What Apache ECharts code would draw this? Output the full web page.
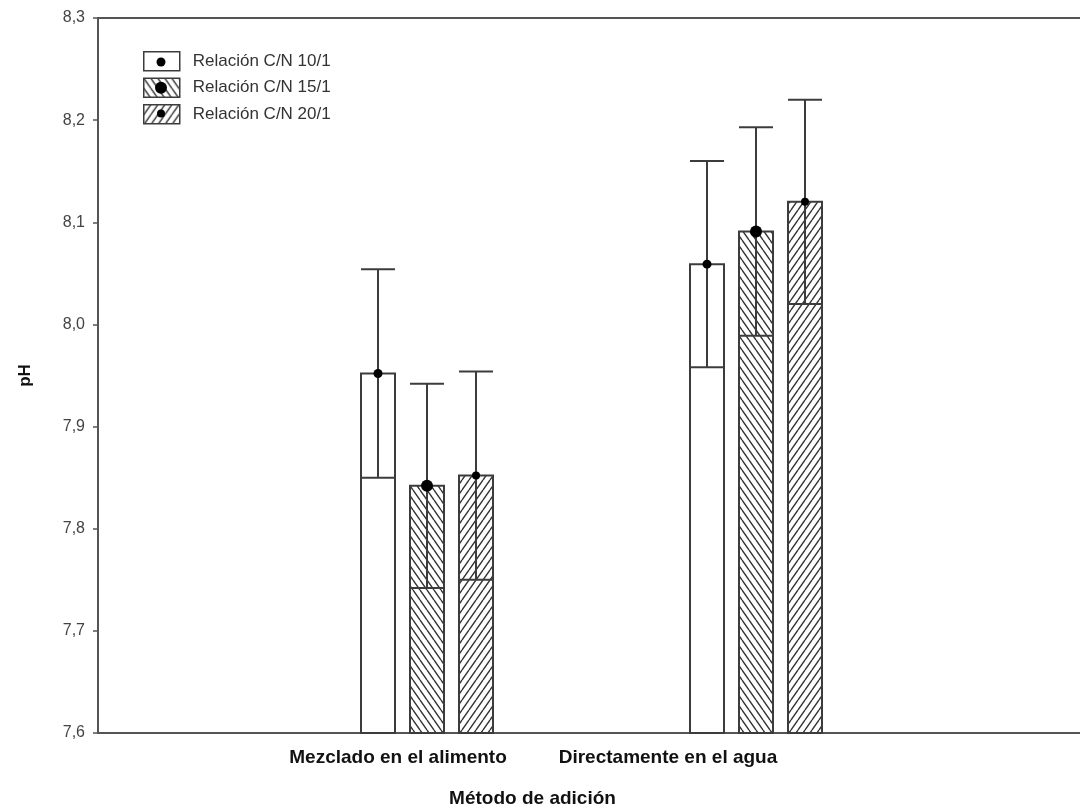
<!DOCTYPE html>
<html>
<head>
<meta charset="utf-8">
<script src="https://cdn.jsdelivr.net/npm/echarts@6/dist/echarts.min.js"></script>
<style>
    html, body { margin: 0; padding: 0; background: #fff; }
    #ph_figure { width: 1080px; height: 808px; }
</style>
</head>
<body>
<div id="ph_figure"></div>
<script>
// categorias del eje x (posiciones 0 y 3 vacias, el grafico original va de 0 a 3)
var categories = ['', 'Mezclado en el alimento', 'Directamente en el agua', ''];
var seriesNames = ['Relación C/N 10/1', 'Relación C/N 15/1', 'Relación C/N 20/1'];

// medias de pH por metodo (Mezclado, Directamente)
var cn10 = [7.952, 8.059];
var cn15 = [7.842, 8.091];
var cn20 = [7.852, 8.120];

// error (+/-) de cada barra
var err10 = [0.102, 0.101];
var err15 = [0.100, 0.102];
var err20 = [0.102, 0.100];

// eje y
var yMin = 7.6, yMax = 8.3, yStep = 0.1;

var ph_figure = echarts.init(document.getElementById('ph_figure'));

var barWidth = 34;
var barPitch = 49;
var dotR = [4.5, 6, 4];
var lineColor = '#3c3c3c';

// trama rayada: 'back' = \\\ , 'fwd' = ///
function hatch(dir) {
    var w = 7, h = 10;
    var c = document.createElement('canvas');
    c.width = w;
    c.height = h;
    var ctx = c.getContext('2d');
    ctx.fillStyle = '#fff';
    ctx.fillRect(0, 0, w, h);
    ctx.strokeStyle = '#333';
    ctx.lineWidth = 1.4;
    ctx.beginPath();
    for (var o = -w; o <= w; o += w) {
        if (dir === 'back') {
            ctx.moveTo(o, 0);
            ctx.lineTo(o + w, h);
        } else {
            ctx.moveTo(o, h);
            ctx.lineTo(o + w, 0);
        }
    }
    ctx.stroke();
    return c;
}

var fills = [
    '#fff',
    { image: hatch('back'), repeat: 'repeat' },
    { image: hatch('fwd'), repeat: 'repeat' }
];

function toData(means, errs) {
    return means.map(function (m, i) { return [i + 1, m, errs[i]]; });
}

function makeRender(k) {
    return function (params, api) {
        var cat = api.value(0), mean = api.value(1), err = api.value(2);
        var base = api.coord([cat, yMin]);
        var top = api.coord([cat, mean]);
        var hi = api.coord([cat, mean + err]);
        var lo = api.coord([cat, mean - err]);
        var cx = base[0] + (k - 1) * barPitch;
        var x0 = cx - barWidth / 2;
        var ls = { stroke: lineColor, lineWidth: 2 };
        return {
            type: 'group',
            children: [
                { type: 'rect', shape: { x: x0, y: top[1], width: barWidth, height: base[1] - top[1] },
                  style: { fill: fills[k], stroke: lineColor, lineWidth: 2 } },
                { type: 'line', shape: { x1: cx, y1: lo[1], x2: cx, y2: hi[1] }, style: ls },
                { type: 'line', shape: { x1: x0, y1: hi[1], x2: x0 + barWidth, y2: hi[1] }, style: ls },
                { type: 'line', shape: { x1: x0, y1: lo[1], x2: x0 + barWidth, y2: lo[1] }, style: ls },
                { type: 'circle', shape: { cx: cx, cy: top[1], r: dotR[k] }, style: { fill: '#000' } }
            ]
        };
    };
}

var allData = [toData(cn10, err10), toData(cn15, err15), toData(cn20, err20)];

var series = seriesNames.map(function (name, k) {
    return {
        name: name,
        type: 'custom',
        renderItem: makeRender(k),
        itemStyle: { color: fills[k], borderColor: lineColor, borderWidth: 1.5 },
        encode: { x: 0, y: 1 },
        data: allData[k],
        z: 3
    };
});

// puntos dentro de los iconos de la leyenda
var legendLeft = 143, legendTop = 52, legendH = 19, legendGap = 6, legendW = 36;
var legendRow = 25.8;
var legendDots = seriesNames.map(function (n, k) {
    return {
        type: 'circle',
        shape: { cx: legendLeft + legendW / 2, cy: legendTop + 10 + k * legendRow, r: dotR[k] },
        style: { fill: '#000' },
        z: 100
    };
});

var labelFont = { fontFamily: 'Liberation Sans', fontSize: 19, fontWeight: 'bold', color: '#111' };

var option = {
    backgroundColor: '#fff',
    animation: false,
    grid: { left: 98, width: 987, top: 18, bottom: 75, outerBoundsMode: 'none', containLabel: false },
    legend: {
        orient: 'vertical',
        left: legendLeft,
        top: legendTop - 1,
        padding: 0,
        itemWidth: legendW,
        itemHeight: legendH,
        itemGap: legendGap,
        icon: 'rect',
        textStyle: { fontFamily: 'Liberation Sans', fontSize: 17, color: '#333', padding: [0, 0, 0, 8] },
        data: seriesNames.map(function (n, k) {
            return { name: n, itemStyle: { color: fills[k], borderColor: lineColor, borderWidth: 1.5 } };
        })
    },
    xAxis: [
        {
            type: 'category',
            data: categories,
            boundaryGap: false,
            axisLine: { lineStyle: { color: '#555', width: 2 } },
            axisTick: { show: false },
            splitLine: { show: false },
            axisLabel: {
                interval: 0,
                margin: 15,
                formatter: function (v) {
                    if (v === categories[1]) return '{a|' + v + '}';
                    if (v === categories[2]) return '{b|' + v + '}';
                    return '';
                },
                rich: {
                    a: Object.assign({ padding: [0, 58, 0, 0] }, labelFont),
                    b: Object.assign({ padding: [0, 176, 0, 0] }, labelFont)
                }
            },
            name: 'Método de adición',
            nameLocation: 'middle',
            nameGap: 56,
            nameTextStyle: Object.assign({ padding: [0, 118, 0, 0] }, labelFont)
        },
        {
            type: 'category',
            position: 'top',
            data: categories,
            boundaryGap: false,
            axisLine: { lineStyle: { color: '#555', width: 2 } },
            axisTick: { show: false },
            axisLabel: { show: false },
            splitLine: { show: false }
        }
    ],
    yAxis: {
        type: 'value',
        min: yMin,
        max: yMax,
        interval: yStep,
        axisLine: { show: true, lineStyle: { color: '#555', width: 2 } },
        axisTick: { show: true, length: 5, lineStyle: { color: '#555', width: 1.5 } },
        splitLine: { show: false },
        axisLabel: {
            margin: 13,
            fontFamily: 'Liberation Sans',
            fontSize: 16,
            color: '#444',
            formatter: function (v) { return v.toFixed(1).replace('.', ','); }
        },
        name: 'pH',
        nameLocation: 'middle',
        nameGap: 64,
        nameTextStyle: { fontFamily: 'Liberation Sans', fontSize: 17, fontWeight: 'bold', color: '#111' }
    },
    graphic: legendDots,
    series: series
};

ph_figure.setOption(option);
</script>
</body>
</html>
